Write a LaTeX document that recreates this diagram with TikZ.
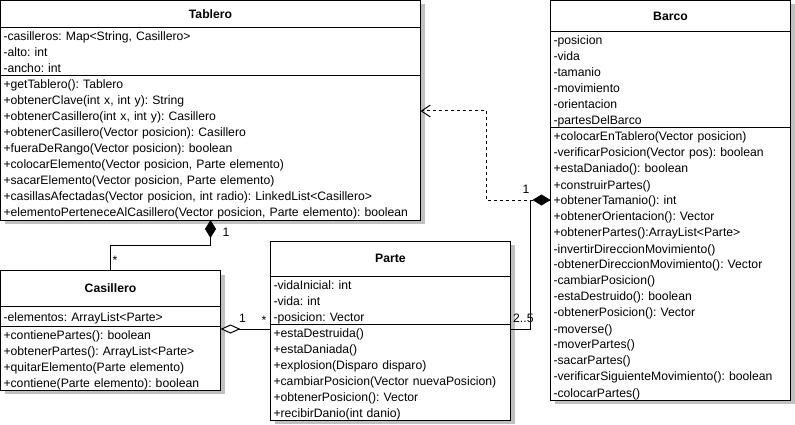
\documentclass[tikz,border=0pt]{standalone}
\usepackage{fontspec}
\setmainfont{Liberation Sans}
\usetikzlibrary{arrows.meta,positioning,shadows}
\frenchspacing
\definecolor{umlInk}{RGB}{0,0,0}
\definecolor{umlShadow}{RGB}{192,192,192}
\newcommand{\rowstrut}{\rule[-3pt]{0pt}{16pt}}
\tikzset{
  utitle/.style={draw=umlInk, fill=white, line width=1pt, outer sep=0pt,
    anchor=north west, align=center, inner xsep=3pt, inner ysep=0pt,
    font=\bfseries\fontsize{12.2}{16}\selectfont,
    drop shadow={shadow xshift=4pt, shadow yshift=-4pt, fill=umlShadow,
      opacity=1}},
  ubody/.style={utitle, anchor=north, align=left,
    font=\fontsize{12.2}{16}\selectfont,
    execute at begin node=\rowstrut, execute at end node=\rowstrut}
}

\begin{document}
\begin{tikzpicture}[
  x=1pt, y=-1pt,
  compo/.style={-{Diamond[length=18pt,width=11pt]}, line width=1pt,
    draw=umlInk},
  aggr/.style={{Diamond[open,length=20pt,width=9pt,fill=white]}-,
    line width=1pt, draw=umlInk},
  dep/.style={-{Straight Barb[length=9pt,width=12pt]}, line width=1pt,
    dash pattern=on 3pt off 3pt, draw=umlInk},
  mult/.style={anchor=base, inner sep=0pt, text=umlInk,
    font=\fontsize{12.2}{14}\selectfont}
]
\path[use as bounding box] (0,0) rectangle (795,425);

% Tablero
\node[utitle, text width=414pt, minimum height=27.5pt] (tabT) at (0.5,0.5)
  {Tablero};
\node[ubody, text width=414pt, minimum height=48pt, below=0pt of tabT] (tabA)
  {-casilleros: Map<String, Casillero>\\-alto: int\\-ancho: int};
\node[ubody, text width=414pt, minimum height=144pt, below=0pt of tabA] (tabM)
  {+getTablero(): Tablero\\
   +obtenerClave(int x, int y): String\\
   +obtenerCasillero(int x, int y): Casillero\\
   +obtenerCasillero(Vector posicion): Casillero\\
   +fueraDeRango(Vector posicion): boolean\\
   +colocarElemento(Vector posicion, Parte elemento)\\
   +sacarElemento(Vector posicion, Parte elemento)\\
   +casillasAfectadas(Vector posicion, int radio): LinkedList<Casillero>\\
   +elementoPerteneceAlCasillero(Vector posicion, Parte elemento): boolean};

% Barco
\node[utitle, text width=234pt, minimum height=31.5pt] (barT) at (550.5,0.5)
  {Barco};
\node[ubody, text width=234pt, minimum height=96pt, below=0pt of barT] (barA)
  {-posicion\\-vida\\-tamanio\\-movimiento\\-orientacion\\-partesDelBarco};
\node[ubody, text width=234pt, minimum height=272pt, below=0pt of barA] (barM)
  {+colocarEnTablero(Vector posicion)\\
   -verificarPosicion(Vector pos): boolean\\
   +estaDaniado(): boolean\\
   +construirPartes()\\
   +obtenerTamanio(): int\\
   +obtenerOrientacion(): Vector\\
   +obtenerPartes():ArrayList<Parte>\\
   -invertirDireccionMovimiento()\\
   -obtenerDireccionMovimiento(): Vector\\
   -cambiarPosicion()\\
   -estaDestruido(): boolean\\
   -obtenerPosicion(): Vector\\
   -moverse()\\
   -moverPartes()\\
   -sacarPartes()\\
   -verificarSiguienteMovimiento(): boolean\\
   -colocarPartes()};

% Casillero
\node[utitle, text width=214pt, minimum height=35.5pt] (casT) at (0.5,270.5)
  {Casillero};
\node[ubody, text width=214pt, minimum height=20pt, below=0pt of casT] (casA)
  {-elementos: ArrayList<Parte>};
\node[ubody, text width=214pt, minimum height=64pt, below=0pt of casA] (casM)
  {+contienePartes(): boolean\\
   +obtenerPartes(): ArrayList<Parte>\\
   +quitarElemento(Parte elemento)\\
   +contiene(Parte elemento): boolean};

% Parte
\node[utitle, text width=234pt, minimum height=35pt] (parT) at (270.5,241)
  {Parte};
\node[ubody, text width=234pt, minimum height=48pt, below=0pt of parT] (parA)
  {-vidaInicial: int\\-vida: int\\-posicion: Vector};
\node[ubody, text width=234pt, minimum height=96pt, below=0pt of parA] (parM)
  {+estaDestruida()\\
   +estaDaniada()\\
   +explosion(Disparo disparo)\\
   +cambiarPosicion(Vector nuevaPosicion)\\
   +obtenerPosicion(): Vector\\
   +recibirDanio(int danio)};

% multiplicities
\node[mult] (tabOne) at (226,236.5) {1};
\node[mult] (casStar) at (115,264) {*};
\node[mult] (aggOne) at (242.5,322.5) {1};
\node[mult] (aggStar) at (264,324) {*};
\node[mult, anchor=base west] (barRange) at (513,322.5) {2..5};
\node[mult] (barOne) at (526,193) {1};

% relations
\draw[dep] (barM.west |- 0,200) -| (486,111) -- (tabM.east |- 0,111);
\draw[compo] (parM.east |- 0,329) -| (530,200) -- (barM.west |- 0,200);
\draw[compo] (casT.north) -- ++(0,-25) -| (tabM.south);
\draw[aggr] (casM.east |- 0,329) -- (parM.west |- 0,329);
\end{tikzpicture}
\end{document}
